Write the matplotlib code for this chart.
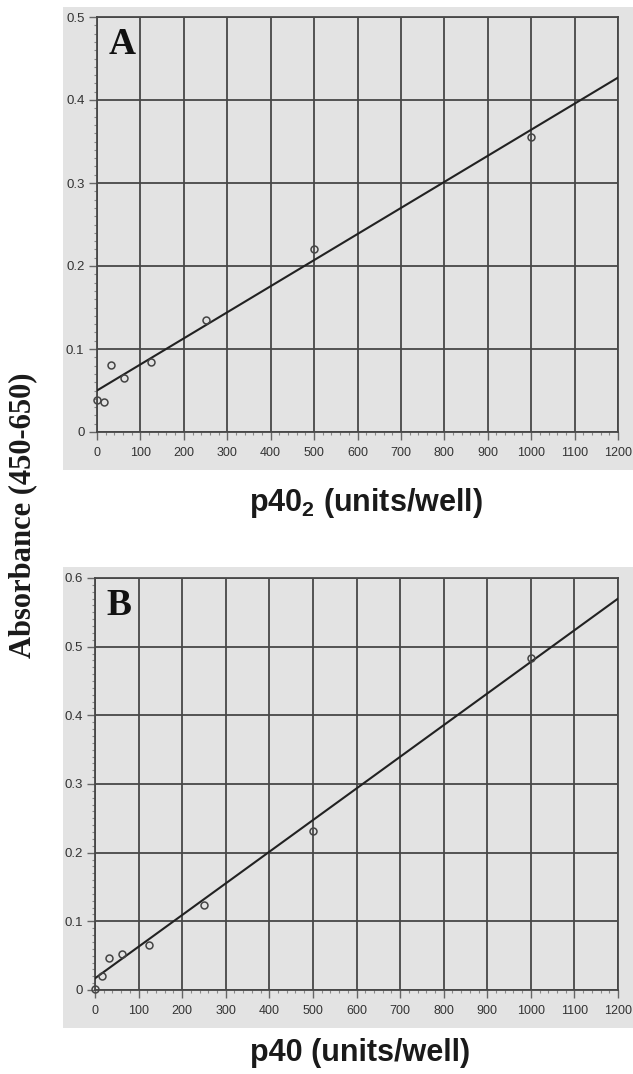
import matplotlib
matplotlib.use("Agg")
import matplotlib.pyplot as plt
from matplotlib.patches import Rectangle
from matplotlib.ticker import MultipleLocator, FixedLocator, FixedFormatter
from matplotlib import font_manager

# 数据
units = [0, 15.6, 31.25, 62.5, 125, 250, 500, 1000]
abs_a = [0.039, 0.036, 0.081, 0.065, 0.084, 0.135, 0.221, 0.356]
abs_b = [0.002, 0.021, 0.046, 0.052, 0.066, 0.124, 0.232, 0.484]

# 拟合直线的两个端点
fit_x = [0, 1200]
fit_a = [0.050, 0.427]
fit_b = [0.017, 0.570]

xticks = [0, 100, 200, 300, 400, 500, 600, 700, 800, 900, 1000, 1100, 1200]
yticks_a = [0, 0.1, 0.2, 0.3, 0.4, 0.5]
ylabels_a = ["0", "0.1", "0.2", "0.3", "0.4", "0.5"]
yticks_b = [0, 0.1, 0.2, 0.3, 0.4, 0.5, 0.6]
ylabels_b = ["0", "0.1", "0.2", "0.3", "0.4", "0.5", "0.6"]

W, H = 633, 1074
names = {f.name for f in font_manager.fontManager.ttflist}
tick_font = "Liberation Sans Narrow" if "Liberation Sans Narrow" in names else "Liberation Sans"
xtick_size = 10.5 if tick_font == "Liberation Sans Narrow" else 9
ytick_size = 11 if tick_font == "Liberation Sans Narrow" else 9.5

plt.rcParams["mathtext.fontset"] = "custom"
plt.rcParams["mathtext.rm"] = "Liberation Sans:bold"

fig = plt.figure(figsize=(W / 100, H / 100), dpi=100)
fig.patch.set_facecolor("white")

bg = "#e3e3e3"
grid_c = "#474747"


def px_box(l, t, r, b):
    # 像素坐标 -> figure 比例
    return [l / W, 1 - b / H, (r - l) / W, (b - t) / H]


def panel(box, axbox, yt, yl, ymax, y, fy, letter):
    x0, y0, w, h = px_box(*box)
    fig.patches.append(Rectangle((x0, y0), w, h, transform=fig.transFigure,
                                 facecolor=bg, edgecolor="none", zorder=-10))
    ax = fig.add_axes(px_box(*axbox))
    ax.set_facecolor(bg)
    ax.set_xlim(0, 1200)
    ax.set_ylim(0, ymax)
    ax.xaxis.set_major_locator(FixedLocator(xticks))
    ax.set_xticklabels([str(v) for v in xticks])
    ax.yaxis.set_major_locator(FixedLocator(yt))
    ax.yaxis.set_major_formatter(FixedFormatter(yl))
    ax.xaxis.set_minor_locator(MultipleLocator(20))
    ax.yaxis.set_minor_locator(MultipleLocator(0.01))
    ax.grid(True, which="major", color=grid_c, lw=1.3)
    ax.set_axisbelow(True)
    for s in ax.spines.values():
        s.set_color(grid_c)
        s.set_linewidth(1.3)
    ax.tick_params(which="major", length=6, width=1, color="#666666",
                   labelcolor="#333333")
    ax.tick_params(axis="x", which="major", pad=5, labelsize=xtick_size)
    ax.tick_params(axis="y", which="major", pad=3, labelsize=ytick_size)
    ax.tick_params(which="minor", length=2.5, width=0.8, color="#888888")
    for lab in ax.get_xticklabels() + ax.get_yticklabels():
        lab.set_family(tick_font)
    ax.plot(fit_x, fy, color="#222222", lw=1.5, zorder=3)
    ax.plot(units, y, "o", mfc="none", mec="#444444", ms=5, mew=1.1,
            zorder=4, clip_on=False)
    ax.text(0.022, 0.975, letter, transform=ax.transAxes, ha="left", va="top",
            family="Liberation Serif", fontweight="bold", fontsize=27,
            color="#111111")
    return ax


panel((63, 7, 633, 470), (97, 17, 618, 432), yticks_a, ylabels_a, 0.5,
      abs_a, fit_a, "A")
panel((63, 567, 633, 1028), (95, 578, 618, 990), yticks_b, ylabels_b, 0.6,
      abs_b, fit_b, "B")

fig.text(366 / W, 1 - 503 / H, r"p40$_\mathregular{2}$ (units/well)", ha="center",
         va="center", family="Liberation Sans", fontweight="bold",
         fontsize=22, color="#1a1a1a")
fig.text(360 / W, 1 - 1053 / H, "p40 (units/well)", ha="center",
         va="center", family="Liberation Sans", fontweight="bold",
         fontsize=22, color="#1a1a1a")
fig.text(23 / W, 1 - 515 / H, "Absorbance (450-650)", rotation=90,
         ha="center", va="center", family="Liberation Serif",
         fontweight="bold", fontsize=22, color="#1a1a1a")

fig.savefig("out.png", dpi=100)
